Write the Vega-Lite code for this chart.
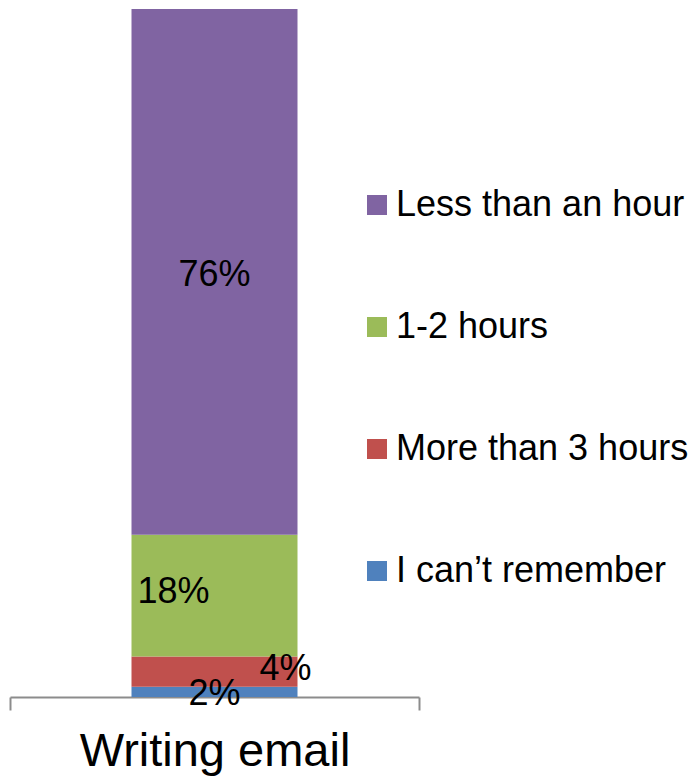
{
  "$schema": "https://vega.github.io/schema/vega-lite/v6.json",
  "autosize": "none",
  "width": 409,
  "height": 688,
  "padding": {"left": 10, "top": 9, "right": 277, "bottom": 79},
  "background": "white",
  "config": {
    "view": {"stroke": null},
    "font": "Liberation Sans"
  },
  "data": {
    "values": [
      {"task": "Writing  email", "answer": "I can’t remember", "value": 1.5, "label": "2%", "rank": 1},
      {"task": "Writing  email", "answer": "More than 3 hours", "value": 4.4, "label": "4%", "rank": 2},
      {"task": "Writing  email", "answer": "1-2 hours", "value": 17.7, "label": "18%", "rank": 3},
      {"task": "Writing  email", "answer": "Less than an hour", "value": 76.4, "label": "76%", "rank": 4}
    ]
  },
  "encoding": {
    "x": {
      "field": "task",
      "type": "nominal",
      "scale": {"paddingInner": 0, "paddingOuter": 0},
      "axis": {
        "title": null,
        "labelAngle": 0,
        "labelFontSize": 47,
        "labelColor": "#000000",
        "labelPadding": 18,
        "labelLimit": 500,
        "domainColor": "#8c8c8c",
        "domainWidth": 2,
        "tickColor": "#8c8c8c",
        "tickWidth": 2,
        "tickSize": 13,
        "tickBand": "extent"
      }
    },
    "y": {"field": "value", "type": "quantitative", "stack": "zero", "scale": {"domain": [0, 100], "nice": false}, "axis": null},
    "order": {"field": "rank", "type": "quantitative", "sort": "ascending"}
  },
  "layer": [
    {
      "mark": {"type": "bar", "width": 166},
      "encoding": {
        "color": {
          "field": "answer",
          "type": "nominal",
          "scale": {
            "domain": ["Less than an hour", "1-2 hours", "More than 3 hours", "I can’t remember"],
            "range": ["#8064A2", "#9BBB59", "#C0504D", "#4F81BD"]
          },
          "legend": {
            "title": null,
            "orient": "none",
            "legendX": 349,
            "legendY": 178,
            "padding": 0,
            "symbolType": "square",
            "symbolSize": 400,
            "symbolStrokeWidth": 0,
            "labelFontSize": 36,
            "labelColor": "#000000",
            "labelOffset": 1,
            "rowPadding": 86,
            "labelLimit": 400
          }
        }
      }
    },
    {
      "mark": {"type": "text", "fontSize": 36, "color": "#000000", "baseline": "alphabetic", "dy": 14},
      "encoding": {
        "y": {"field": "value", "type": "quantitative", "stack": "zero", "bandPosition": 0.5},
        "text": {"condition": {"test": "datum.rank == 4", "field": "label"}, "value": ""}
      }
    },
    {
      "mark": {"type": "text", "fontSize": 36, "color": "#000000", "baseline": "alphabetic", "dx": -41, "dy": 7},
      "encoding": {
        "y": {"field": "value", "type": "quantitative", "stack": "zero", "bandPosition": 0.5},
        "text": {"condition": {"test": "datum.rank == 3", "field": "label"}, "value": ""}
      }
    },
    {
      "mark": {"type": "text", "fontSize": 36, "color": "#000000", "baseline": "alphabetic", "dx": 71, "dy": 8},
      "encoding": {
        "y": {"field": "value", "type": "quantitative", "stack": "zero", "bandPosition": 0.5},
        "text": {"condition": {"test": "datum.rank == 2", "field": "label"}, "value": ""}
      }
    },
    {
      "mark": {"type": "text", "fontSize": 36, "color": "#000000", "baseline": "alphabetic", "dy": 13},
      "encoding": {
        "y": {"field": "value", "type": "quantitative", "stack": "zero", "bandPosition": 0.5},
        "text": {"condition": {"test": "datum.rank == 1", "field": "label"}, "value": ""}
      }
    }
  ]
}
